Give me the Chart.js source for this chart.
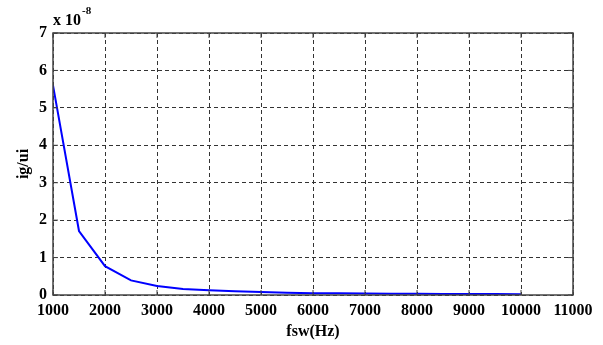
<!DOCTYPE html>
<html>
<head>
<meta charset="utf-8">
<script src="https://cdn.jsdelivr.net/npm/chart.js@4"></script>
<style>
  html, body { margin: 0; padding: 0; background: #fff; }
  #wrap { width: 603px; height: 345px; }
</style>
</head>
<body>
<div id="wrap"><canvas id="c"></canvas></div>
<script>
// fsw (Hz) and ig/ui (x 1e-8)
const fsw = [1000, 1500, 2000, 2500, 3000, 3500, 4000, 4500, 5000, 5500, 6000, 6500, 7000, 7500, 8000, 8500, 9000, 9500, 10000];
const igui = [5.6, 1.71, 0.77, 0.39, 0.24, 0.16, 0.13, 0.1, 0.08, 0.06, 0.05, 0.045, 0.04, 0.035, 0.032, 0.03, 0.028, 0.025, 0.022];
const xTicks = [1000, 2000, 3000, 4000, 5000, 6000, 7000, 8000, 9000, 10000, 11000];
const yTicks = [0, 1, 2, 3, 4, 5, 6, 7];

const font = { family: "Liberation Serif", size: 16, weight: "bold" };

// box around the plot, small inner ticks, exponent label
const frame = {
    id: "frame",
    afterDraw(chart) {
        const { ctx, chartArea: a, scales } = chart;
        ctx.save();
        ctx.strokeStyle = "#444";
        ctx.lineWidth = 1.5;
        ctx.strokeRect(a.left, a.top, a.right - a.left, a.bottom - a.top);
        ctx.lineWidth = 1;
        ctx.beginPath();
        yTicks.forEach(v => {
            const y = scales.y.getPixelForValue(v);
            ctx.moveTo(a.left, y); ctx.lineTo(a.left + 5, y);
            ctx.moveTo(a.right, y); ctx.lineTo(a.right - 5, y);
        });
        xTicks.forEach(v => {
            const x = scales.x.getPixelForValue(v);
            ctx.moveTo(x, a.bottom); ctx.lineTo(x, a.bottom - 5);
            ctx.moveTo(x, a.top); ctx.lineTo(x, a.top + 5);
        });
        ctx.stroke();
        ctx.fillStyle = "#000";
        ctx.textBaseline = "alphabetic";
        ctx.font = "bold 16px 'Liberation Serif'";
        ctx.fillText("x 10", a.left, a.top - 8);
        const w = ctx.measureText("x 10").width;
        ctx.font = "bold 11px 'Liberation Serif'";
        ctx.fillText("-8", a.left + 1 + w, a.top - 19);
        ctx.restore();
    }
};

new Chart(document.getElementById("c"), {
    type: "line",
    data: {
        datasets: [{
            data: fsw.map((x, i) => ({ x, y: igui[i] })),
            borderColor: "#0000ff",
            borderWidth: 2,
            pointRadius: 0,
            tension: 0,
            fill: false,
        }],
    },
    options: {
        responsive: true,
        maintainAspectRatio: false,
        animation: false,
        layout: { padding: { top: 33, right: 30, left: 0, bottom: 0 } },
        plugins: { legend: { display: false }, tooltip: { enabled: false } },
        scales: {
            x: {
                type: "linear",
                min: 1000,
                max: 11000,
                afterBuildTicks: s => { s.ticks = xTicks.map(v => ({ value: v })); },
                afterFit: s => { s.height = 50; },
                ticks: { font, color: "#000", padding: 6, maxRotation: 0, callback: v => String(v) },
                grid: { color: "#333", lineWidth: 1, drawTicks: false },
                border: { display: false, dash: [4, 3] },
                title: { display: true, text: "fsw(Hz)", font, color: "#000", padding: { top: 0, bottom: 4 } },
            },
            y: {
                min: 0,
                max: 7,
                afterBuildTicks: s => { s.ticks = yTicks.map(v => ({ value: v })); },
                afterFit: s => { s.width = 53; },
                ticks: { font, color: "#000", padding: 6, callback: v => String(v) },
                grid: { color: "#333", lineWidth: 1, drawTicks: false },
                border: { display: false, dash: [4, 3] },
                title: { display: true, text: "ig/ui", font, color: "#000", padding: { top: 14, bottom: 0 } },
            },
        },
    },
    plugins: [frame],
});
</script>
</body>
</html>
